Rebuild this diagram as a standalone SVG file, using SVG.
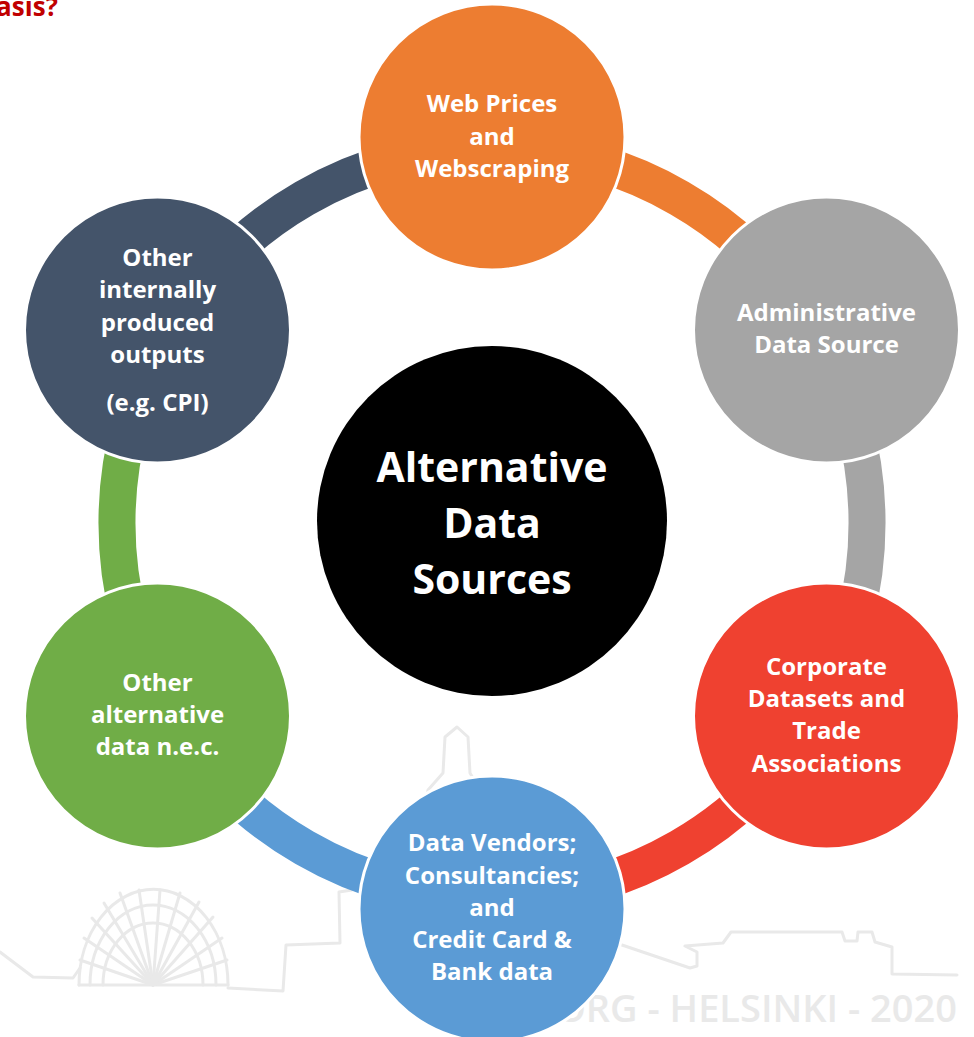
<svg xmlns="http://www.w3.org/2000/svg" width="974" height="1037" viewBox="0 0 974 1037">
  <style>
    .node { stroke: #ffffff; stroke-width: 3; }
    .lbl { font-family: "Open Sans", "Liberation Sans", sans-serif; font-weight: bold; font-size: 24px; fill: #ffffff; text-anchor: middle; }
    .big { font-size: 41px; }
    .arc { fill: none; stroke-width: 37; }
    .wm { fill: none; stroke: #e9e9e9; stroke-width: 3; stroke-linejoin: round; stroke-linecap: round; }
    .wmtext { font-family: "Open Sans", "Liberation Sans", sans-serif; font-weight: 600; font-size: 38px; fill: #e9e9e9; text-anchor: end; }
    .title { font-family: "Open Sans", "Liberation Sans", sans-serif; font-weight: bold; font-size: 26px; fill: #c00000; text-anchor: end; }
  </style>

  <rect width="974" height="1037" fill="#ffffff"/>

  <!-- cut-off heading -->
  <text class="title" x="58" y="16">asis?</text>

  <!-- faint skyline watermark -->
  <g id="watermark">
    <path class="wm" d="M0 952 L33 977 L73 978 L80 968"/>
    <path class="wm" d="M79 985 A74 95 0 0 1 228 985"/>
    <path class="wm" d="M90 985 A63 80 0 0 1 216 985"/>
    <path class="wm" d="M103 985 A50 62 0 0 1 203 985"/>
    <path class="wm" d="M79 985 L228 985"/>
    <g class="wm">
      <line x1="153" y1="985" x2="80" y2="960"/>
      <line x1="153" y1="985" x2="84" y2="938"/>
      <line x1="153" y1="985" x2="92" y2="918"/>
      <line x1="153" y1="985" x2="104" y2="903"/>
      <line x1="153" y1="985" x2="120" y2="893"/>
      <line x1="153" y1="985" x2="139" y2="890"/>
      <line x1="153" y1="985" x2="160" y2="890"/>
      <line x1="153" y1="985" x2="180" y2="893"/>
      <line x1="153" y1="985" x2="199" y2="902"/>
      <line x1="153" y1="985" x2="213" y2="917"/>
      <line x1="153" y1="985" x2="222" y2="938"/>
      <line x1="153" y1="985" x2="227" y2="960"/>
    </g>
    <path class="wm" d="M228 988 L283 991 L286 945 L340 943 L339 892 L352 890 L410 860 L428 790 L443 773 L445 737 L457 727 L468 737 L470 773 L480 790"/>
    <path class="wm" d="M622 945 L690 968 L697 966 L697 952 L685 946 L723 943 L731 932 L842 932 L845 941 L857 941 L858 932 L872 932 L875 942 L892 947 L892 974 L957 975"/>
    <text class="wmtext" x="957" y="1022">ORG - HELSINKI - 2020</text>
  </g>

  <!-- ring segments linking neighbouring sources -->
  <g id="connectors">
    <path class="arc" stroke="#ED7D31" d="M492 148 A375 375 0 0 1 816.8 335.5"/>
    <path class="arc" stroke="#A5A5A5" d="M816.8 335.5 A375 375 0 0 1 816.8 710.5"/>
    <path class="arc" stroke="#EF4130" d="M816.8 710.5 A375 375 0 0 1 492 898"/>
    <path class="arc" stroke="#5B9BD5" d="M492 898 A375 375 0 0 1 167.2 710.5"/>
    <path class="arc" stroke="#70AD47" d="M167.2 710.5 A375 375 0 0 1 167.2 335.5"/>
    <path class="arc" stroke="#44546A" d="M167.2 335.5 A375 375 0 0 1 492 148"/>
  </g>

  <g id="center">
    <circle cx="492" cy="521" r="175" fill="#000000"/>
    <text class="lbl big" x="492" y="482">Alternative</text>
    <text class="lbl big" x="492" y="538">Data</text>
    <text class="lbl big" x="492" y="594">Sources</text>
  </g>

  <g id="web-prices">
    <circle class="node" cx="492" cy="137" r="133" fill="#ED7D31"/>
    <text class="lbl" x="492" y="112">Web Prices</text>
    <text class="lbl" x="492" y="145">and</text>
    <text class="lbl" x="492" y="177">Webscraping</text>
  </g>

  <g id="administrative">
    <circle class="node" cx="826.5" cy="330" r="133" fill="#A5A5A5"/>
    <text class="lbl" x="826.5" y="321">Administrative</text>
    <text class="lbl" x="826.5" y="353">Data Source</text>
  </g>

  <g id="corporate">
    <circle class="node" cx="826.5" cy="716" r="133" fill="#EF4130"/>
    <text class="lbl" x="826.5" y="675">Corporate</text>
    <text class="lbl" x="826.5" y="707">Datasets and</text>
    <text class="lbl" x="826.5" y="739">Trade</text>
    <text class="lbl" x="826.5" y="772">Associations</text>
  </g>

  <g id="vendors">
    <circle class="node" cx="492" cy="909" r="133" fill="#5B9BD5"/>
    <text class="lbl" x="492" y="851">Data Vendors;</text>
    <text class="lbl" x="492" y="884">Consultancies;</text>
    <text class="lbl" x="492" y="916">and</text>
    <text class="lbl" x="492" y="948">Credit Card &amp;</text>
    <text class="lbl" x="492" y="980">Bank data</text>
  </g>

  <g id="other-alternative">
    <circle class="node" cx="157.5" cy="716" r="133" fill="#70AD47"/>
    <text class="lbl" x="157.5" y="691">Other</text>
    <text class="lbl" x="157.5" y="723">alternative</text>
    <text class="lbl" x="157.5" y="755">data n.e.c.</text>
  </g>

  <g id="other-internal">
    <circle class="node" cx="157.5" cy="330" r="133" fill="#44546A"/>
    <text class="lbl" x="157.5" y="266">Other</text>
    <text class="lbl" x="157.5" y="298">internally</text>
    <text class="lbl" x="157.5" y="331">produced</text>
    <text class="lbl" x="157.5" y="363">outputs</text>
    <text class="lbl" x="157.5" y="411">(e.g. CPI)</text>
  </g>
</svg>
